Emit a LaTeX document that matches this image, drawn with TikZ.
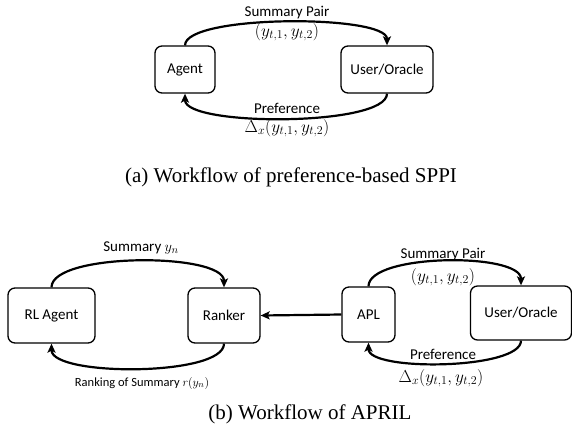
\documentclass[tikz,border=0pt]{standalone}
\usepackage{fontspec}
\setmainfont{Carlito}
\newfontfamily\capfont{Liberation Serif}
\usetikzlibrary{arrows.meta}
\begin{document}
\begin{tikzpicture}[x=1pt,y=-1pt,
  box/.style={draw,line width=1.3pt,rounded corners=7pt,minimum height=47pt,inner sep=0pt,font=\fontsize{15}{17}\selectfont},
  flow/.style={line width=2.2pt,-{Stealth[length=9pt,width=8pt,inset=2pt]}},
  lbl/.style={font=\fontsize{15}{17}\selectfont,inner sep=0pt},
  mlbl/.style={font=\fontsize{16.5}{19}\selectfont,inner sep=0pt},
  small/.style={font=\fontsize{12.5}{15}\selectfont,inner sep=0pt},
  captext/.style={font=\capfont\fontsize{21}{24}\selectfont,inner sep=0pt}]
\useasboundingbox (0,0) rectangle (572,437);
% (a)
\node[box,minimum width=60pt] (ag) at (185,69.5) {Agent};
\node[box,minimum width=92pt] (uo) at (387,69.5) {User/Oracle};
\draw[flow] (ag.north) .. controls +(0,-31) and +(0,-31) .. (uo.north);
\draw[flow] (uo.south) .. controls +(0,33) and +(0,33) .. (ag.south);
\node[lbl] (sp) at (287,13) {Summary Pair};
\node[mlbl] (spm) at (287,32) {$(y_{t,1},y_{t,2})$};
\node[lbl] (pr) at (287,108) {Preference};
\node[mlbl] (prm) at (287,128) {$\Delta_x(y_{t,1},y_{t,2})$};
\node[captext] (capa) at (291,177) {(a) Workflow of preference-based SPPI};
% (b)
\node[box,minimum width=87pt,minimum height=55pt] (rl) at (51.5,315.5) {RL Agent};
\node[box,minimum width=72pt,minimum height=55pt] (rk) at (224,315.5) {Ranker};
\node[box,minimum width=53pt,minimum height=55pt] (apl) at (368.5,314.5) {APL};
\node[box,minimum width=101pt,minimum height=54pt] (uo2) at (521,313) {User/Oracle};
\draw[flow] (rl.north) .. controls +(0,-35) and +(0,-35) .. (rk.north);
\draw[flow] (rk.south) .. controls +(0,33) and +(0,33) .. (rl.south);
\draw[flow] (apl.north) .. controls +(0,-33) and +(0,-33) .. (uo2.north);
\draw[flow] (uo2.south) .. controls +(0,29) and +(0,29) .. (apl.south);
\draw[flow] (apl.west) -- (rk.east);
\node[lbl] (sy) at (141,248) {Summary $y_n$};
\node[small] (rs) at (142,383) {Ranking of Summary $r(y_n)$};
\node[lbl] (sp2) at (443,255) {Summary Pair};
\node[mlbl] (spm2) at (443,277) {$(y_{t,1},y_{t,2})$};
\node[lbl] (pr2) at (443,354) {Preference};
\node[mlbl] (prm2) at (441,378) {$\Delta_x(y_{t,1},y_{t,2})$};
\node[captext] (capb) at (310,414) {(b) Workflow of APRIL};
\end{tikzpicture}
\end{document}
